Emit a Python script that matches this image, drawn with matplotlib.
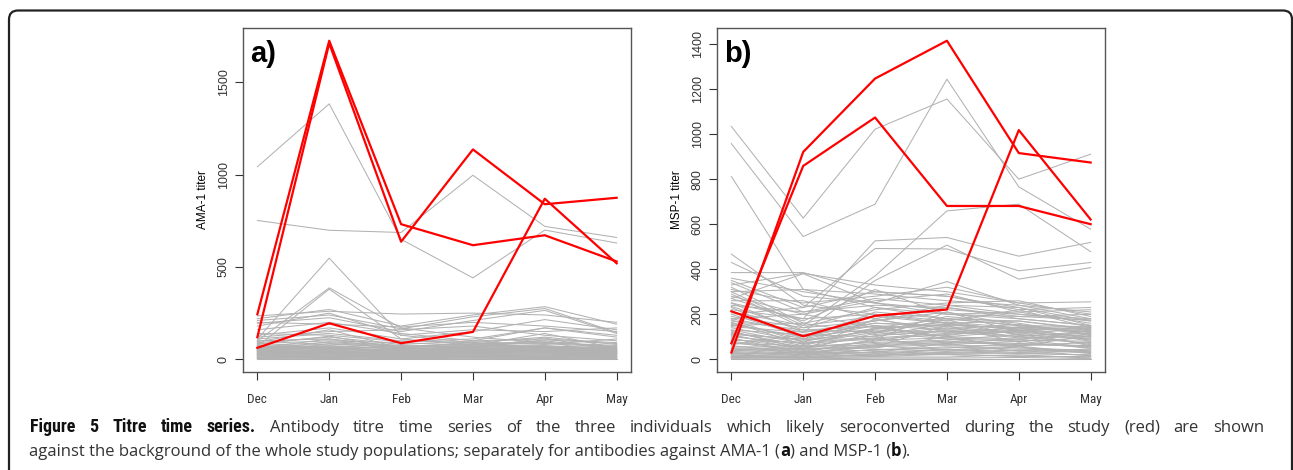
import matplotlib
matplotlib.use("Agg")
import matplotlib.pyplot as plt
from matplotlib.patches import FancyBboxPatch
from matplotlib.transforms import IdentityTransform

months = ["Dec", "Jan", "Feb", "Mar", "Apr", "May"]

# a) AMA-1 titers
ama_red = [
    [244, 1726, 732, 618, 672, 530],
    [120, 1712, 637, 1137, 840, 875],
    [62, 195, 87, 148, 870, 520],
]
ama_grey = [
    [1043, 1384, 650, 441, 700, 630],
    [752, 699, 687, 997, 720, 660],
    [110, 548, 130, 90, 60, 40],
    [100, 387, 170, 120, 90, 70],
    [70, 380, 110, 80, 100, 60],
    [235, 260, 245, 250, 240, 200],
    [220, 270, 180, 240, 285, 190],
    [210, 240, 165, 230, 275, 145],
    [195, 225, 150, 210, 265, 140],
    [200, 190, 175, 200, 180, 150],
    [180, 250, 130, 160, 150, 170],
    [160, 200, 140, 100, 170, 120],
    [130, 170, 110, 150, 215, 160],
    [120, 150, 160, 180, 130, 100],
    [140, 130, 95, 110, 170, 130],
    [110, 140, 100, 90, 120, 80],
    [90, 120, 80, 100, 110, 90],
    [100, 110, 70, 85, 90, 75],
    [85, 100, 90, 75, 140, 60],
    [95, 160, 60, 95, 80, 110],
    [75, 90, 70, 80, 85, 65],
    [68, 82, 64, 72, 74, 58],
    [64, 74, 58, 66, 71, 54],
    [58, 71, 55, 61, 64, 50],
    [55, 63, 48, 57, 60, 47],
    [49, 58, 46, 52, 55, 43],
    [45, 54, 40, 47, 51, 39],
    [41, 50, 37, 44, 46, 35],
    [37, 45, 33, 40, 42, 31],
    [33, 41, 30, 36, 38, 28],
    [29, 37, 26, 32, 34, 25],
    [25, 32, 23, 28, 30, 22],
    [21, 28, 19, 24, 26, 18],
    [17, 24, 16, 20, 22, 15],
    [13, 19, 12, 16, 17, 12],
    [9, 14, 9, 12, 13, 9],
    [5, 9, 5, 7, 8, 5],
    [2, 4, 2, 3, 4, 2],
    [0, 0, 0, 0, 0, 0],
    [60, 110, 45, 70, 95, 30],
    [30, 85, 65, 35, 60, 70],
    [72, 66, 61, 78, 69, 62],
    [66, 60, 52, 70, 63, 57],
    [62, 56, 43, 59, 67, 52],
    [53, 67, 39, 63, 49, 45],
    [47, 62, 35, 54, 57, 41],
    [43, 47, 31, 49, 44, 37],
    [39, 43, 28, 42, 48, 33],
    [35, 39, 24, 38, 36, 29],
    [27, 34, 21, 30, 39, 24],
    [23, 30, 14, 26, 28, 20],
    [19, 22, 11, 18, 24, 16],
    [11, 16, 7, 14, 15, 10],
    [7, 11, 3, 9, 10, 6],
    [80, 125, 55, 65, 105, 85],
    [50, 95, 75, 60, 115, 45],
]

# b) MSP-1 titers
msp_red = [
    [30, 921, 1247, 1415, 916, 874],
    [71, 859, 1074, 681, 681, 600],
    [213, 102, 193, 221, 1018, 621],
]
msp_grey = [
    [1034, 627, 1022, 1156, 800, 911],
    [958, 545, 689, 1244, 766, 578],
    [812, 311, 230, 180, 150, 120],
    [300, 150, 370, 659, 689, 478],
    [250, 180, 526, 541, 458, 519],
    [200, 230, 492, 490, 393, 430],
    [180, 120, 350, 507, 356, 407],
    [467, 240, 200, 160, 130, 100],
    [430, 280, 250, 200, 180, 150],
    [385, 385, 300, 280, 230, 170],
    [330, 382, 330, 300, 250, 200],
    [360, 300, 250, 345, 240, 180],
    [310, 250, 280, 320, 250, 255],
    [350, 230, 300, 280, 220, 230],
    [300, 310, 290, 260, 240, 210],
    [280, 200, 260, 290, 210, 220],
    [270, 380, 250, 220, 200, 170],
    [320, 160, 220, 250, 260, 190],
    [260, 260, 180, 240, 200, 180],
    [290, 140, 230, 200, 210, 160],
    [240, 210, 240, 230, 190, 200],
    [220, 180, 200, 170, 220, 140],
    [250, 120, 170, 230, 180, 150],
    [210, 150, 190, 160, 170, 130],
    [180, 200, 140, 180, 150, 145],
    [200, 100, 160, 150, 140, 120],
    [170, 130, 120, 190, 160, 110],
    [160, 90, 150, 130, 130, 140],
    [150, 160, 110, 140, 100, 125],
    [140, 80, 130, 120, 120, 100],
    [130, 110, 100, 160, 110, 90],
    [120, 60, 140, 100, 90, 110],
    [110, 90, 90, 110, 130, 80],
    [100, 70, 120, 90, 80, 95],
    [90, 50, 80, 130, 100, 70],
    [80, 40, 70, 80, 70, 60],
    [70, 60, 60, 70, 90, 50],
    [60, 30, 90, 60, 60, 75],
    [50, 45, 50, 100, 50, 40],
    [45, 35, 40, 50, 70, 55],
    [40, 25, 60, 40, 40, 30],
    [35, 20, 30, 70, 35, 45],
    [30, 15, 45, 35, 55, 25],
    [25, 30, 20, 45, 30, 35],
    [20, 10, 35, 25, 25, 20],
    [15, 20, 15, 30, 40, 15],
    [10, 5, 25, 20, 15, 10],
    [5, 10, 10, 10, 20, 5],
    [2, 2, 5, 5, 8, 3],
    [0, 0, 0, 0, 0, 0],
    [110, 40, 180, 120, 140, 90],
    [130, 70, 90, 210, 120, 60],
    [95, 25, 55, 150, 75, 130],
    [65, 110, 150, 90, 60, 105],
    [340, 210, 270, 240, 230, 150],
    [270, 170, 310, 200, 190, 175],
    [230, 90, 210, 180, 170, 135],
    [190, 140, 170, 210, 150, 120],
    [165, 65, 135, 165, 140, 145],
    [145, 120, 160, 145, 115, 135],
    [125, 45, 115, 175, 105, 115],
    [115, 85, 125, 105, 145, 120],
    [105, 55, 105, 125, 95, 100],
    [85, 75, 95, 115, 125, 85],
    [75, 35, 85, 95, 85, 80],
    [55, 55, 75, 85, 110, 65],
    [48, 28, 65, 75, 65, 58],
    [38, 48, 55, 65, 80, 48],
    [28, 22, 42, 55, 45, 38],
    [18, 32, 28, 42, 58, 28],
    [12, 12, 18, 32, 28, 18],
    [8, 6, 12, 22, 12, 12],
    [155, 100, 135, 155, 135, 128],
    [175, 75, 175, 135, 155, 105],
    [235, 130, 145, 100, 125, 140],
]

caption_1 = [("Figure 5 Titre time series.", "heading"),
             ("Antibody titre time series of the three individuals which likely "
              "seroconverted during the study (red) are shown", "normal")]
caption_2 = [("against the background of the whole study populations; separately for "
              "antibodies against AMA-1 (", "normal"), ("a", "bold"),
             (") and MSP-1 (", "normal"), ("b", "bold"), (").", "normal")]

W, H = 1293, 470
fig = plt.figure(figsize=(W / 100, H / 100), dpi=100)
sans = ["Liberation Sans", "DejaVu Sans"]
narrow = ["Roboto Condensed", "Liberation Sans Narrow", "Liberation Sans", "DejaVu Sans"]
cap_font = ["Open Sans", "DejaVu Sans"]
head_font = ["Roboto Condensed", "Liberation Sans Narrow", "Open Sans", "DejaVu Sans"]
cap_size = 12


def r_ylim(series):
    # R style: data range plus 4% on each side
    vals = [v for s in series for v in s]
    lo, hi = min(vals), max(vals)
    pad = 0.04 * (hi - lo)
    return lo - pad, hi + pad


def panel(left, grey, red, yticks, ylabel, tag):
    ax = fig.add_axes([left / W, (H - 372) / H, 388 / W, 344 / H])
    x = list(range(len(months)))
    for s in grey:
        ax.plot(x, s, color="#b2b2b2", lw=0.75)
    for s in red:
        ax.plot(x, s, color="#ff0000", lw=1.6)
    ax.set_xlim(-0.2, len(months) - 1 + 0.2)
    ax.set_ylim(*r_ylim(grey + red))
    ax.set_xticks(x)
    ax.set_xticklabels(months, family=narrow, fontsize=9.5)
    ax.set_yticks(yticks)
    ax.set_yticklabels([str(t) for t in yticks], family=sans, fontsize=9,
                       rotation=90, va="center")
    ax.tick_params(axis="x", length=6, width=0.8, pad=9, colors="#333333")
    ax.tick_params(axis="y", length=6, width=0.8, pad=3.5, colors="#333333")
    ax.set_ylabel(ylabel, family=sans, fontsize=8.5, labelpad=6)
    for sp in ax.spines.values():
        sp.set_color("#555555")
        sp.set_linewidth(1.0)
    ax.text(0.018, 0.902, tag, transform=ax.transAxes, family=sans,
            fontsize=21, fontweight="bold", va="baseline", ha="left")
    return ax


panel(243, ama_grey, ama_red, [0, 500, 1000, 1500], "AMA-1 titer", "a)")
panel(717, msp_grey, msp_red, list(range(0, 1401, 200)), "MSP-1 titer", "b)")

# rounded frame around the figure (bottom runs off the page)
frame = FancyBboxPatch((9, -60), 1283, 470 - 10.5 + 60,
                       boxstyle="round,pad=0,rounding_size=9",
                       transform=IdentityTransform(), fill=False,
                       edgecolor="#222222", lw=1.6)
fig.patches.append(frame)

renderer = fig.canvas.get_renderer()


def add_word(x, y, txt, style):
    if style == "heading":
        kw = dict(family=head_font, fontweight="bold", fontsize=cap_size + 1, color="#111111")
    elif style == "bold":
        kw = dict(family=cap_font, fontweight="bold", fontsize=cap_size, color="#111111")
    else:
        kw = dict(family=cap_font, fontweight="normal", fontsize=cap_size, color="#333333")
    t = fig.text(x, y, txt, transform=IdentityTransform(), va="baseline", ha="left", **kw)
    return t, t.get_window_extent(renderer).width


def justified_line(x0, x1, y, parts):
    # caption is justified: spread words over the full width
    words = [(w, st) for txt, st in parts for w in txt.split(" ") if w]
    items = [add_word(0, y, w, st) for w, st in words]
    gap = (x1 - x0 - sum(w for _, w in items)) / (len(items) - 1)
    x = x0
    for t, w in items:
        t.set_x(x)
        x += w + gap


def plain_line(x, y, parts):
    for txt, st in parts:
        _, w = add_word(x, y, txt, st)
        x += w


justified_line(30, 1264, H - 432, caption_1)
plain_line(29, H - 456, caption_2)

fig.savefig("out.png", dpi=100)
